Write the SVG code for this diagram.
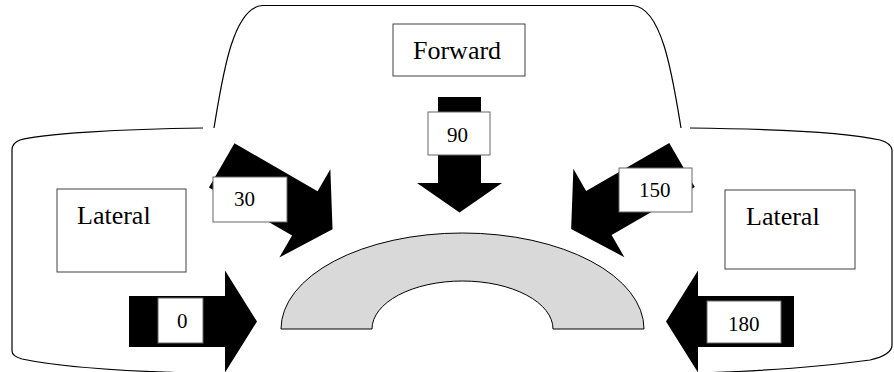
<svg xmlns="http://www.w3.org/2000/svg" width="894" height="372" viewBox="0 0 894 372">
<style>
.bracket{fill:none;stroke:#000;stroke-width:1.2}
.arrow{fill:#000;stroke:none}
.box{fill:#fff;stroke:#404040;stroke-width:1}
.nbox{fill:#fff;stroke:#666;stroke-width:1}
.lbl{font-family:"Liberation Serif","Times New Roman",serif;font-size:26px;fill:#000}
.num{font-family:"Liberation Serif","Times New Roman",serif;font-size:21px;fill:#000}
.arch{fill:#d9d9d9;stroke:#000;stroke-width:1}
</style>
<defs>
<polygon id="blk" points="0,-25.5 96,-25.5 96,-51 128,0 96,51 96,25.5 0,25.5"/>
</defs>
<rect width="894" height="372" fill="#fff"/>
<g id="connectors">
<path class="bracket" d="M214,128 C222,80 232,8 262,5.5 L633,5.5 C663,8 673,80 681,128"/>
<path class="bracket" d="M203,128 C120,129 40,134 20,140 Q12,143 12,150 L12,351 Q12,356 22,359 C60,367 120,371 190,373"/>
<path class="bracket" d="M690,128 C780,129 850,133 880,140 Q891,143 892,150 L892,345 Q892,355 870,360 C820,367 760,371 700,373"/>
</g>
<g id="arch">
<path class="arch" d="M281,329 A181.5,96 0 0 1 644,329 L553,329 A90.5,48 0 0 0 372,329 Z"/>
</g>
<g id="arrow0">
<use href="#blk" class="arrow" transform="translate(129,321.5)"/>
<rect class="nbox" x="158" y="298" width="45" height="45"/>
<text class="num" x="177" y="328">0</text>
</g>
<g id="arrow180">
<use href="#blk" class="arrow" transform="translate(794,321.5) rotate(180)"/>
<rect class="nbox" x="707" y="301" width="74" height="42"/>
<text class="num" x="728" y="331">180</text>
</g>
<g id="arrow30">
<use href="#blk" class="arrow" transform="translate(221.7,165.3) rotate(30)"/>
<rect class="nbox" x="213" y="177" width="74" height="45"/>
<text class="num" x="234" y="206">30</text>
</g>
<g id="arrow150">
<use href="#blk" class="arrow" transform="translate(682,165) rotate(150)"/>
<rect class="nbox" x="619" y="168" width="73" height="44"/>
<text class="num" x="639" y="197">150</text>
</g>
<g id="arrow90">
<polygon class="arrow" points="438,97 481,97 481,183 502,183 459.5,212.5 417,183 438,183"/>
<rect class="nbox" x="428" y="112" width="62" height="43"/>
<text class="num" x="447" y="142">90</text>
</g>
<g id="forward">
<rect class="box" x="393" y="24" width="132" height="52"/>
<text class="lbl" x="413" y="59">Forward</text>
</g>
<g id="lateral-left">
<rect class="box" x="57" y="189" width="129" height="83"/>
<text class="lbl" x="77" y="224">Lateral</text>
</g>
<g id="lateral-right">
<rect class="box" x="725" y="190" width="130" height="79"/>
<text class="lbl" x="746" y="225">Lateral</text>
</g>
</svg>
